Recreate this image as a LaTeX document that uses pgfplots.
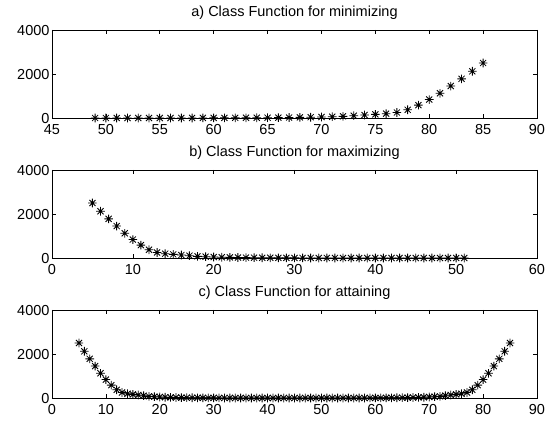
\documentclass[border=0pt]{standalone}
\usepackage{fontspec}
\setmainfont{Liberation Sans}
\usepackage{pgfplots}
\pgfplotsset{compat=1.18}
\pgfdeclareplotmark{mstar}{%
  \pgfpathmoveto{\pgfqpoint{-\pgfplotmarksize}{0pt}}\pgfpathlineto{\pgfqpoint{\pgfplotmarksize}{0pt}}%
  \pgfpathmoveto{\pgfqpoint{0pt}{-\pgfplotmarksize}}\pgfpathlineto{\pgfqpoint{0pt}{\pgfplotmarksize}}%
  \pgfpathmoveto{\pgfqpoint{-0.707\pgfplotmarksize}{-0.707\pgfplotmarksize}}\pgfpathlineto{\pgfqpoint{0.707\pgfplotmarksize}{0.707\pgfplotmarksize}}%
  \pgfpathmoveto{\pgfqpoint{-0.707\pgfplotmarksize}{0.707\pgfplotmarksize}}\pgfpathlineto{\pgfqpoint{0.707\pgfplotmarksize}{-0.707\pgfplotmarksize}}%
  \pgfusepathqstroke}
\pgfplotstableread{
x y
49 0
50 0
51 0
52 0
53 0
54 1
55 1
56 1
57 2
58 2
59 3
60 4
61 5
62 7
63 9
64 11
65 14
66 18
67 22
68 28
69 35
70 45
71 60
72 75
73 105
74 135
75 165
76 195
77 250
78 374
79 584
80 838
81 1122
82 1452
83 1780
84 2124
85 2500
}\tmin
\pgfplotstableread{
x y
5 2500
6 2124
7 1780
8 1452
9 1122
10 838
11 584
12 374
13 250
14 195
15 165
16 135
17 105
18 75
19 60
20 45
21 35
22 28
23 22
24 18
25 14
26 11
27 9
28 7
29 5
30 4
31 3
32 2
33 2
34 1
35 1
36 1
37 0
38 0
39 0
40 0
41 0
42 0
43 0
44 0
45 0
46 0
47 0
48 0
49 0
50 0
51 0
}\tmax
\pgfplotstableread{
x y
5 2500
6 2124
7 1780
8 1452
9 1122
10 838
11 584
12 374
13 250
14 195
15 165
16 135
17 105
18 75
19 60
20 45
21 35
22 28
23 22
24 18
25 14
26 11
27 9
28 7
29 5
30 4
31 3
32 2
33 2
34 1
35 1
36 1
37 0
38 0
39 0
40 0
41 0
42 0
43 0
44 0
45 0
46 0
47 0
48 0
49 0
50 0
51 0
52 0
53 0
54 1
55 1
56 1
57 2
58 2
59 3
60 4
61 5
62 7
63 9
64 11
65 14
66 18
67 22
68 28
69 35
70 45
71 60
72 75
73 105
74 135
75 165
76 195
77 250
78 374
79 584
80 838
81 1122
82 1452
83 1780
84 2124
85 2500
}\tatt
\pgfplotsset{
  mystyle/.style={
    scale only axis, width=485pt, height=88pt,
    ymin=0, ymax=4000, ytick={0,2000,4000},
    tick align=inside, major tick length=4pt,
    xtick pos=both, ytick pos=both,
    axis line style={line width=0.8pt},
    every tick/.style={line width=0.6pt, black},
    tick label style={font=\fontsize{14.5}{17}\selectfont},
    xticklabel style={yshift=-3pt},
    yticklabel style={xshift=1pt, yshift=-1pt},
    title style={font=\fontsize{14.5}{17}\selectfont, yshift=1pt},
    /pgf/number format/1000 sep={},
    /pgf/number format/assume math mode=true,
    anchor=south west,
  },
}
\begin{document}
\begin{tikzpicture}
\useasboundingbox (0pt,0pt) rectangle (547pt,421pt);
\begin{axis}[mystyle, at={(52pt,303pt)}, xmin=45, xmax=90, xtick={45,50,...,90},
  title={a) Class Function for minimizing}]
\addplot[only marks, mark=mstar, mark size=4.3pt, black, mark options={line width=0.85pt}] table[x=x,y=y] {\tmin};
\end{axis}
\begin{axis}[mystyle, at={(52pt,163pt)}, xmin=0, xmax=60, xtick={0,10,...,60},
  title={b) Class Function for maximizing}]
\addplot[only marks, mark=mstar, mark size=4.3pt, black, mark options={line width=0.85pt}] table[x=x,y=y] {\tmax};
\end{axis}
\begin{axis}[mystyle, at={(52pt,23pt)}, xmin=0, xmax=90, xtick={0,10,...,90},
  title={c) Class Function for attaining}]
\addplot[only marks, mark=mstar, mark size=4.3pt, black, mark options={line width=0.85pt}] table[x=x,y=y] {\tatt};
\end{axis}
\end{tikzpicture}
\end{document}
